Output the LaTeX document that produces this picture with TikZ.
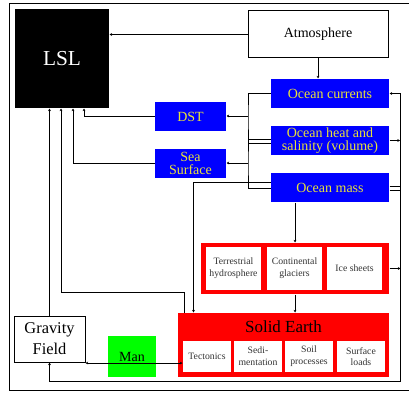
\documentclass[tikz,border=0pt]{standalone}
\usepackage{fontspec}
\setmainfont{Liberation Serif}
\usetikzlibrary{arrows.meta}
\definecolor{oceanyellow}{RGB}{232,226,58}

\tikzset{every picture/.style={line width=0.75pt}}
\tikzset{
  >={Stealth[length=2pt,width=2pt]},
  lslbox/.style={fill=black, text=white, inner sep=0pt, minimum width=70.5pt, minimum height=74.25pt, font=\fontsize{16}{19}\selectfont},
  plainbox/.style={draw, fill=white, inner sep=0pt, align=center},
  oceanbox/.style={fill=blue, text=oceanyellow, inner sep=0pt, align=center, minimum height=21.75pt, font=\fontsize{10.5}{9.4}\selectfont},
  redbox/.style={fill=red, inner sep=0pt},
  smallbox/.style={fill=white, text=black!80, inner sep=0pt, align=center, font=\fontsize{7.3}{8.8}\selectfont},
}

\begin{document}
\begin{tikzpicture}[x=0.75pt,y=0.75pt,yscale=-1,xscale=1]
\useasboundingbox (0,0) rectangle (409,392);

% Frame
\draw (9,4) rectangle (416,390);

% Text Node
\node[lslbox] (lsl) at (62,58.5) {LSL};
% Text Node
\node[plainbox, minimum width=105pt, minimum height=35.25pt, font=\fontsize{10.5}{12}\selectfont] (atm) at (318,34.5) {Atmosphere};
% Text Node
\node[oceanbox, minimum width=88.5pt] (ocur) at (330,93.5) {Ocean currents};
% Text Node
\node[oceanbox, minimum width=88.5pt] (oheat) at (330,140.5) {Ocean heat and\\salinity (volume)};
% Text Node
\node[oceanbox, minimum width=88.5pt] (omass) at (330,187.5) {Ocean mass};
% Text Node
\node[oceanbox, minimum width=53.25pt] (dst) at (190.5,116.5) {DST};
% Text Node
\node[oceanbox, minimum width=53.25pt] (ssurf) at (190.5,163.5) {Sea\\Surface};

% Text Node
\node[redbox, minimum width=141pt, minimum height=38.25pt] (ice) at (295,268.5) {};
\node[smallbox, minimum width=41.25pt, minimum height=32.25pt] (terr) at (233.5,268.5) {Terrestrial\\hydrosphere};
\node[smallbox, minimum width=41.25pt, minimum height=32.25pt] (glac) at (294.5,268.5) {Continental\\glaciers};
\node[smallbox, minimum width=41.25pt, minimum height=32.25pt] (isheet) at (354.5,268.5) {Ice sheets};

% Text Node
\node[redbox, minimum width=158.25pt, minimum height=48pt] (searth) at (283.5,345) {};
\node[inner sep=0pt, font=\fontsize{12.7}{15}\selectfont] (setitle) at (283.5,327) {Solid Earth};
\node[smallbox, minimum width=36pt, minimum height=23.25pt] (tect) at (207,356.5) {Tectonics};
\node[smallbox, minimum width=36pt, minimum height=23.25pt] (sedi) at (258,356.5) {Sedi-\\mentation};
\node[smallbox, minimum width=36pt, minimum height=23.25pt] (soil) at (309,356.5) {Soil\\processes};
\node[smallbox, minimum width=36pt, minimum height=23.25pt] (sload) at (361,356.5) {Surface\\loads};

% Text Node
\node[plainbox, minimum width=53.25pt, minimum height=34.5pt, font=\fontsize{12.3}{15.75}\selectfont] (grav) at (49.5,339) {Gravity\\Field};
% Text Node
\node[fill=green, inner sep=0pt, minimum width=36pt, minimum height=30.75pt, font=\fontsize{10.5}{12}\selectfont] (man) at (132,356.5) {Man};

\coordinate (jdst) at (248,116);
\coordinate (jss) at (248,163);
\coordinate (jle) at (61,292);
\coordinate (rtop) at (400,140);
\coordinate (rbot) at (400.5,381);

% Connection
\draw[->] (atm.west) -- (atm.west -| lsl.east);
\draw[->] (atm.south) -- (atm.south |- ocur.north);
% Connection
\draw (ocur.west) -| (jdst) |- ([yshift=2.6pt]oheat.west);
\draw[->] (jdst) -- (jdst -| dst.east);
\draw ([yshift=-1.1pt]oheat.west) -| (jss) |- ([yshift=1.1pt]omass.west);
\draw[->] (jss) -- (jss -| ssurf.east);
% Connection
\draw[->] (dst.west) -| ([xshift=16.5pt]lsl.south);
\draw[->] (ssurf.west) -| ([xshift=8.25pt]lsl.south);
\draw[->] (grav.north) -- (grav.north |- lsl.south);
\draw[->] ([xshift=5.25pt]searth.north west) |- (jle) -- (jle |- lsl.south);
% Connection
\draw[->] ([yshift=-3.4pt]omass.west) -| ([xshift=12pt]searth.north west);
\draw[->] (omass.south -| ice.north) -- (ice.north);
\draw[->] (ice.south) -- (ice.south |- searth.north);
% Connection
\draw[->] (oheat.east) -- (oheat.east -| rtop);
\draw[->] ([yshift=2.6pt]omass.east) -| (rtop) |- (ocur.east);
\draw[->] ([yshift=-1.1pt]omass.east) -| (rbot) -| (grav.south);
\draw[->] (ice.east) -- (ice.east -| rbot);
% Connection
\draw[->] ([yshift=13.5pt]searth.west) -- ([yshift=13.5pt]searth.west -| grav.east);
\draw[->] ([yshift=4.9pt]man.east) -- ([yshift=4.9pt]man.east -| tect.west);

\end{tikzpicture}
\end{document}
